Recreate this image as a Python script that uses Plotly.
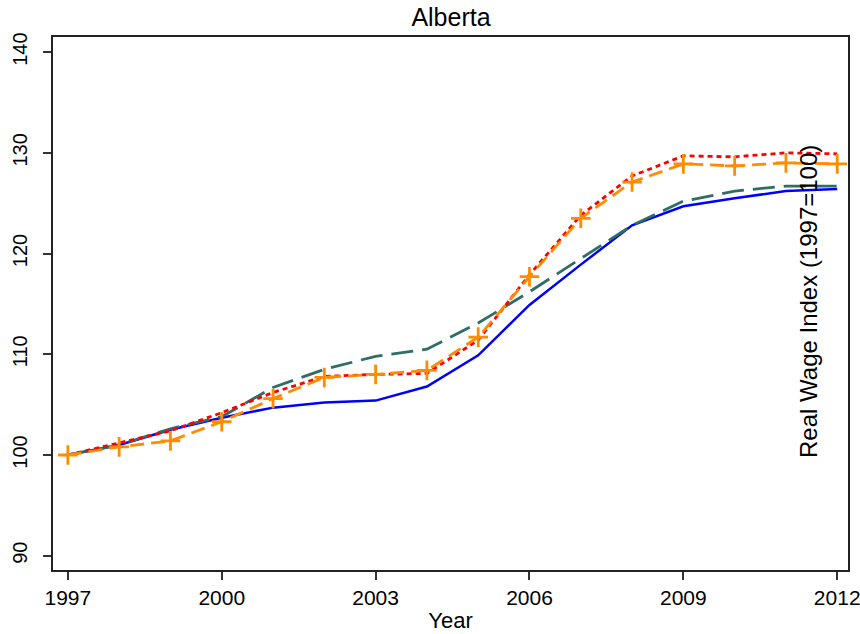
import plotly.graph_objects as go

years = list(range(1997, 2013))
blue = [100, 101.0, 102.5, 103.7, 104.7, 105.2, 105.4, 106.8, 109.9, 114.9, 118.9, 122.8, 124.7, 125.5, 126.2, 126.4]
teal = [100, 101.0, 102.6, 103.8, 106.7, 108.5, 109.8, 110.5, 113.1, 116.2, 119.5, 122.8, 125.2, 126.2, 126.7, 126.7]
red = [100, 101.2, 102.4, 104.2, 106.2, 107.8, 108.0, 108.1, 111.4, 117.9, 123.8, 127.7, 129.7, 129.6, 130.0, 129.9]
orange = [100, 100.8, 101.4, 103.3, 105.6, 107.7, 108.0, 108.4, 111.7, 117.7, 123.5, 127.1, 128.9, 128.7, 129.0, 128.9]

x_ticks = [1997, 2000, 2003, 2006, 2009, 2012]
y_ticks = [90, 100, 110, 120, 130, 140]

W, H = 860, 634

fig = go.Figure()
fig.add_trace(go.Scatter(x=years, y=blue, mode="lines",
                         line=dict(color="#0000FF", width=2.5)))
fig.add_trace(go.Scatter(x=years, y=teal, mode="lines",
                         line=dict(color="#2F6E64", width=2.8, dash="22px,9px")))
fig.add_trace(go.Scatter(x=years, y=red, mode="lines",
                         line=dict(color="#FF0000", width=2.8, dash="5px,4px")))
fig.add_trace(go.Scatter(x=years, y=orange, mode="lines+markers",
                         line=dict(color="#FF8C00", width=2.8, dash="14px,7px"),
                         marker=dict(symbol="cross-thin", size=14,
                                     line=dict(color="#FF8C00", width=2.8))))

fig.update_layout(
    width=W, height=H,
    margin=dict(l=53, r=12, t=37, b=64, autoexpand=False),
    paper_bgcolor="white", plot_bgcolor="white",
    showlegend=False,
    font=dict(family="Liberation Sans, Arial", size=20, color="black"),
    title=dict(text="Alberta", x=451 / W, xref="container", xanchor="center",
               yref="container", y=1, yanchor="top", pad=dict(t=8),
               automargin=False, font=dict(size=25)),
    xaxis=dict(range=[1996.71, 2012.21], tickvals=x_ticks, ticks="outside",
               ticklen=8, tickwidth=1.5, tickcolor="#333", automargin=False,
               tickfont=dict(size=21), ticklabeloverflow="allow",
               showline=True, linecolor="#222", linewidth=2, mirror=True,
               showgrid=False, zeroline=False,
               title=dict(text="Year", standoff=4, font=dict(size=22))),
    yaxis=dict(range=[88.58, 141.5], tickvals=y_ticks, ticks="outside",
               ticklen=8, tickwidth=1.5, tickcolor="#333", tickangle=-90,
               automargin=False, tickfont=dict(size=20), ticklabelstandoff=8,
               ticklabeloverflow="allow",
               showline=True, linecolor="#222", linewidth=2, mirror=True,
               showgrid=False, zeroline=False),
    annotations=[dict(text="Real Wage Index (1997=100)", xref="paper", yref="paper",
                      x=(808 - 53) / 795, y=(570 - 302) / 533, textangle=-90,
                      showarrow=False, xanchor="center", yanchor="middle",
                      font=dict(size=24, color="black"))],
)

# remove the default page margin so the figure fills the window exactly
fig.write_html("out.html",
               config={"displayModeBar": False},
               post_script="document.body.style.margin='0';"
                           "document.body.style.overflow='hidden';")
